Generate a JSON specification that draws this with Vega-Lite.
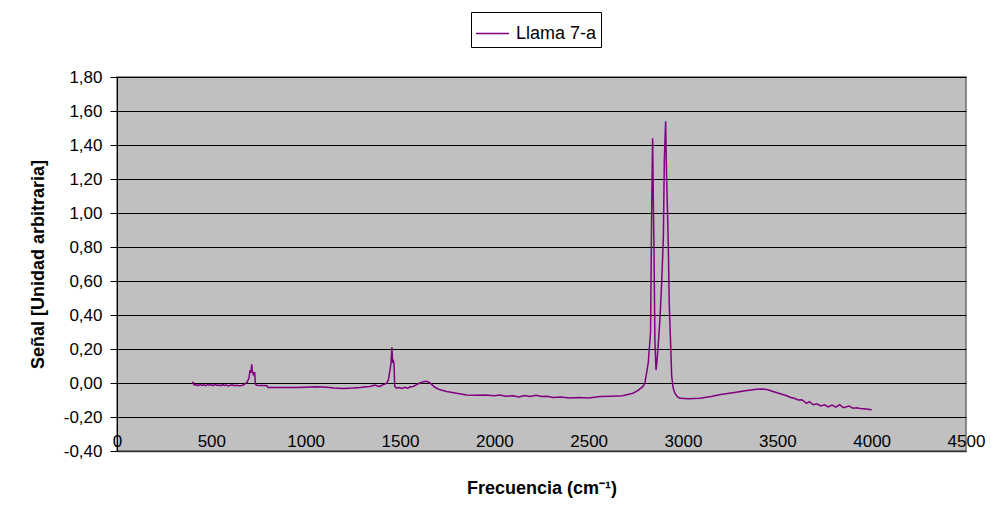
{
  "$schema": "https://vega.github.io/schema/vega-lite/v6.json",
  "autosize": "none",
  "width": 849,
  "height": 374,
  "padding": {"left": 117, "top": 77, "right": 26, "bottom": 63},
  "background": "white",
  "config": {
    "font": "Liberation Sans",
    "view": {"fill": "#C0C0C0", "stroke": "#6e6e6e", "strokeWidth": 1.5}
  },
  "data": {
    "values": [
      {"f": 400, "s": 0.008, "serie": "Llama 7-a"},
      {"f": 405, "s": -0.005, "serie": "Llama 7-a"},
      {"f": 410, "s": -0.012, "serie": "Llama 7-a"},
      {"f": 420, "s": -0.01, "serie": "Llama 7-a"},
      {"f": 430, "s": -0.015, "serie": "Llama 7-a"},
      {"f": 440, "s": -0.008, "serie": "Llama 7-a"},
      {"f": 450, "s": -0.014, "serie": "Llama 7-a"},
      {"f": 460, "s": -0.01, "serie": "Llama 7-a"},
      {"f": 470, "s": -0.016, "serie": "Llama 7-a"},
      {"f": 480, "s": -0.009, "serie": "Llama 7-a"},
      {"f": 490, "s": -0.013, "serie": "Llama 7-a"},
      {"f": 500, "s": -0.01, "serie": "Llama 7-a"},
      {"f": 510, "s": -0.016, "serie": "Llama 7-a"},
      {"f": 520, "s": -0.008, "serie": "Llama 7-a"},
      {"f": 530, "s": -0.014, "serie": "Llama 7-a"},
      {"f": 540, "s": -0.012, "serie": "Llama 7-a"},
      {"f": 550, "s": -0.016, "serie": "Llama 7-a"},
      {"f": 560, "s": -0.01, "serie": "Llama 7-a"},
      {"f": 570, "s": -0.015, "serie": "Llama 7-a"},
      {"f": 580, "s": -0.012, "serie": "Llama 7-a"},
      {"f": 590, "s": -0.017, "serie": "Llama 7-a"},
      {"f": 600, "s": -0.013, "serie": "Llama 7-a"},
      {"f": 610, "s": -0.011, "serie": "Llama 7-a"},
      {"f": 620, "s": -0.016, "serie": "Llama 7-a"},
      {"f": 630, "s": -0.014, "serie": "Llama 7-a"},
      {"f": 640, "s": -0.015, "serie": "Llama 7-a"},
      {"f": 650, "s": -0.016, "serie": "Llama 7-a"},
      {"f": 660, "s": -0.015, "serie": "Llama 7-a"},
      {"f": 670, "s": -0.012, "serie": "Llama 7-a"},
      {"f": 680, "s": -0.004, "serie": "Llama 7-a"},
      {"f": 690, "s": 0.005, "serie": "Llama 7-a"},
      {"f": 700, "s": 0.03, "serie": "Llama 7-a"},
      {"f": 705, "s": 0.076, "serie": "Llama 7-a"},
      {"f": 710, "s": 0.06, "serie": "Llama 7-a"},
      {"f": 714, "s": 0.11, "serie": "Llama 7-a"},
      {"f": 718, "s": 0.067, "serie": "Llama 7-a"},
      {"f": 722, "s": 0.05, "serie": "Llama 7-a"},
      {"f": 726, "s": 0.06, "serie": "Llama 7-a"},
      {"f": 730, "s": 0.06, "serie": "Llama 7-a"},
      {"f": 733, "s": -0.005, "serie": "Llama 7-a"},
      {"f": 740, "s": -0.013, "serie": "Llama 7-a"},
      {"f": 760, "s": -0.015, "serie": "Llama 7-a"},
      {"f": 780, "s": -0.015, "serie": "Llama 7-a"},
      {"f": 795, "s": -0.016, "serie": "Llama 7-a"},
      {"f": 800, "s": -0.026, "serie": "Llama 7-a"},
      {"f": 850, "s": -0.027, "serie": "Llama 7-a"},
      {"f": 900, "s": -0.027, "serie": "Llama 7-a"},
      {"f": 950, "s": -0.027, "serie": "Llama 7-a"},
      {"f": 1000, "s": -0.025, "serie": "Llama 7-a"},
      {"f": 1050, "s": -0.022, "serie": "Llama 7-a"},
      {"f": 1100, "s": -0.024, "serie": "Llama 7-a"},
      {"f": 1150, "s": -0.03, "serie": "Llama 7-a"},
      {"f": 1200, "s": -0.032, "serie": "Llama 7-a"},
      {"f": 1250, "s": -0.03, "serie": "Llama 7-a"},
      {"f": 1290, "s": -0.026, "serie": "Llama 7-a"},
      {"f": 1320, "s": -0.022, "serie": "Llama 7-a"},
      {"f": 1341, "s": -0.02, "serie": "Llama 7-a"},
      {"f": 1367, "s": -0.012, "serie": "Llama 7-a"},
      {"f": 1380, "s": -0.018, "serie": "Llama 7-a"},
      {"f": 1394, "s": -0.02, "serie": "Llama 7-a"},
      {"f": 1410, "s": -0.01, "serie": "Llama 7-a"},
      {"f": 1420, "s": -0.006, "serie": "Llama 7-a"},
      {"f": 1430, "s": 0.0, "serie": "Llama 7-a"},
      {"f": 1438, "s": 0.018, "serie": "Llama 7-a"},
      {"f": 1447, "s": 0.076, "serie": "Llama 7-a"},
      {"f": 1452, "s": 0.115, "serie": "Llama 7-a"},
      {"f": 1457, "s": 0.21, "serie": "Llama 7-a"},
      {"f": 1461, "s": 0.125, "serie": "Llama 7-a"},
      {"f": 1465, "s": 0.13, "serie": "Llama 7-a"},
      {"f": 1468, "s": 0.115, "serie": "Llama 7-a"},
      {"f": 1472, "s": -0.02, "serie": "Llama 7-a"},
      {"f": 1482, "s": -0.03, "serie": "Llama 7-a"},
      {"f": 1495, "s": -0.026, "serie": "Llama 7-a"},
      {"f": 1510, "s": -0.032, "serie": "Llama 7-a"},
      {"f": 1525, "s": -0.025, "serie": "Llama 7-a"},
      {"f": 1540, "s": -0.03, "serie": "Llama 7-a"},
      {"f": 1555, "s": -0.022, "serie": "Llama 7-a"},
      {"f": 1570, "s": -0.02, "serie": "Llama 7-a"},
      {"f": 1588, "s": -0.01, "serie": "Llama 7-a"},
      {"f": 1605, "s": 0.0, "serie": "Llama 7-a"},
      {"f": 1624, "s": 0.008, "serie": "Llama 7-a"},
      {"f": 1641, "s": 0.01, "serie": "Llama 7-a"},
      {"f": 1659, "s": 0.0, "serie": "Llama 7-a"},
      {"f": 1685, "s": -0.025, "serie": "Llama 7-a"},
      {"f": 1712, "s": -0.04, "serie": "Llama 7-a"},
      {"f": 1747, "s": -0.05, "serie": "Llama 7-a"},
      {"f": 1800, "s": -0.06, "serie": "Llama 7-a"},
      {"f": 1853, "s": -0.07, "serie": "Llama 7-a"},
      {"f": 1900, "s": -0.072, "serie": "Llama 7-a"},
      {"f": 1950, "s": -0.07, "serie": "Llama 7-a"},
      {"f": 2000, "s": -0.075, "serie": "Llama 7-a"},
      {"f": 2030, "s": -0.07, "serie": "Llama 7-a"},
      {"f": 2060, "s": -0.078, "serie": "Llama 7-a"},
      {"f": 2100, "s": -0.075, "serie": "Llama 7-a"},
      {"f": 2130, "s": -0.082, "serie": "Llama 7-a"},
      {"f": 2160, "s": -0.074, "serie": "Llama 7-a"},
      {"f": 2190, "s": -0.08, "serie": "Llama 7-a"},
      {"f": 2220, "s": -0.072, "serie": "Llama 7-a"},
      {"f": 2250, "s": -0.08, "serie": "Llama 7-a"},
      {"f": 2280, "s": -0.078, "serie": "Llama 7-a"},
      {"f": 2310, "s": -0.085, "serie": "Llama 7-a"},
      {"f": 2350, "s": -0.083, "serie": "Llama 7-a"},
      {"f": 2400, "s": -0.088, "serie": "Llama 7-a"},
      {"f": 2450, "s": -0.086, "serie": "Llama 7-a"},
      {"f": 2500, "s": -0.088, "serie": "Llama 7-a"},
      {"f": 2560, "s": -0.08, "serie": "Llama 7-a"},
      {"f": 2620, "s": -0.078, "serie": "Llama 7-a"},
      {"f": 2680, "s": -0.075, "serie": "Llama 7-a"},
      {"f": 2735, "s": -0.06, "serie": "Llama 7-a"},
      {"f": 2760, "s": -0.045, "serie": "Llama 7-a"},
      {"f": 2788, "s": -0.02, "serie": "Llama 7-a"},
      {"f": 2798, "s": 0.0, "serie": "Llama 7-a"},
      {"f": 2816, "s": 0.12, "serie": "Llama 7-a"},
      {"f": 2828, "s": 0.3, "serie": "Llama 7-a"},
      {"f": 2834, "s": 1.02, "serie": "Llama 7-a"},
      {"f": 2839, "s": 1.44, "serie": "Llama 7-a"},
      {"f": 2843, "s": 1.05, "serie": "Llama 7-a"},
      {"f": 2846, "s": 0.82, "serie": "Llama 7-a"},
      {"f": 2851, "s": 0.25, "serie": "Llama 7-a"},
      {"f": 2857, "s": 0.076, "serie": "Llama 7-a"},
      {"f": 2863, "s": 0.14, "serie": "Llama 7-a"},
      {"f": 2869, "s": 0.23, "serie": "Llama 7-a"},
      {"f": 2878, "s": 0.38, "serie": "Llama 7-a"},
      {"f": 2887, "s": 0.59, "serie": "Llama 7-a"},
      {"f": 2896, "s": 0.86, "serie": "Llama 7-a"},
      {"f": 2901, "s": 1.31, "serie": "Llama 7-a"},
      {"f": 2908, "s": 1.54, "serie": "Llama 7-a"},
      {"f": 2913, "s": 1.21, "serie": "Llama 7-a"},
      {"f": 2918, "s": 1.0, "serie": "Llama 7-a"},
      {"f": 2922, "s": 0.82, "serie": "Llama 7-a"},
      {"f": 2927, "s": 0.47, "serie": "Llama 7-a"},
      {"f": 2935, "s": 0.21, "serie": "Llama 7-a"},
      {"f": 2940, "s": 0.04, "serie": "Llama 7-a"},
      {"f": 2948, "s": -0.03, "serie": "Llama 7-a"},
      {"f": 2957, "s": -0.06, "serie": "Llama 7-a"},
      {"f": 2970, "s": -0.08, "serie": "Llama 7-a"},
      {"f": 2984, "s": -0.09, "serie": "Llama 7-a"},
      {"f": 3030, "s": -0.092, "serie": "Llama 7-a"},
      {"f": 3090, "s": -0.09, "serie": "Llama 7-a"},
      {"f": 3150, "s": -0.08, "serie": "Llama 7-a"},
      {"f": 3200, "s": -0.068, "serie": "Llama 7-a"},
      {"f": 3265, "s": -0.057, "serie": "Llama 7-a"},
      {"f": 3330, "s": -0.045, "serie": "Llama 7-a"},
      {"f": 3390, "s": -0.037, "serie": "Llama 7-a"},
      {"f": 3420, "s": -0.035, "serie": "Llama 7-a"},
      {"f": 3450, "s": -0.04, "serie": "Llama 7-a"},
      {"f": 3477, "s": -0.05, "serie": "Llama 7-a"},
      {"f": 3520, "s": -0.065, "serie": "Llama 7-a"},
      {"f": 3550, "s": -0.075, "serie": "Llama 7-a"},
      {"f": 3567, "s": -0.084, "serie": "Llama 7-a"},
      {"f": 3590, "s": -0.09, "serie": "Llama 7-a"},
      {"f": 3610, "s": -0.1, "serie": "Llama 7-a"},
      {"f": 3630, "s": -0.098, "serie": "Llama 7-a"},
      {"f": 3655, "s": -0.12, "serie": "Llama 7-a"},
      {"f": 3670, "s": -0.11, "serie": "Llama 7-a"},
      {"f": 3690, "s": -0.128, "serie": "Llama 7-a"},
      {"f": 3710, "s": -0.122, "serie": "Llama 7-a"},
      {"f": 3730, "s": -0.135, "serie": "Llama 7-a"},
      {"f": 3750, "s": -0.128, "serie": "Llama 7-a"},
      {"f": 3770, "s": -0.14, "serie": "Llama 7-a"},
      {"f": 3790, "s": -0.13, "serie": "Llama 7-a"},
      {"f": 3810, "s": -0.142, "serie": "Llama 7-a"},
      {"f": 3830, "s": -0.128, "serie": "Llama 7-a"},
      {"f": 3850, "s": -0.145, "serie": "Llama 7-a"},
      {"f": 3867, "s": -0.14, "serie": "Llama 7-a"},
      {"f": 3880, "s": -0.135, "serie": "Llama 7-a"},
      {"f": 3900, "s": -0.148, "serie": "Llama 7-a"},
      {"f": 3920, "s": -0.145, "serie": "Llama 7-a"},
      {"f": 3940, "s": -0.15, "serie": "Llama 7-a"},
      {"f": 3960, "s": -0.152, "serie": "Llama 7-a"},
      {"f": 3980, "s": -0.155, "serie": "Llama 7-a"},
      {"f": 4000, "s": -0.158, "serie": "Llama 7-a"}
    ]
  },
  "mark": {"type": "line", "strokeWidth": 1.5, "interpolate": "linear"},
  "encoding": {
    "x": {
      "field": "f",
      "type": "quantitative",
      "scale": {"domain": [0, 4500], "nice": false, "zero": false},
      "axis": {
        "values": [0, 500, 1000, 1500, 2000, 2500, 3000, 3500, 4000, 4500],
        "format": "d",
        "title": "Frecuencia (cm⁻¹)",
        "titleFontSize": 18,
        "titleFontWeight": "bold",
        "titleColor": "black",
        "titleY": 42,
        "titleBaseline": "alphabetic",
        "labelFontSize": 17,
        "labelColor": "black",
        "labelPadding": -18,
        "labelBaseline": "top",
        "labelFlush": false,
        "labelOverlap": false,
        "labelBound": false,
        "ticks": false,
        "domain": true,
        "domainColor": "#333333",
        "domainWidth": 1.5,
        "grid": false
      }
    },
    "y": {
      "field": "s",
      "type": "quantitative",
      "scale": {"domain": [-0.4, 1.8], "nice": false, "zero": false},
      "axis": {
        "values": [-0.4, -0.2, 0, 0.2, 0.4, 0.6, 0.8, 1.0, 1.2, 1.4, 1.6, 1.8],
        "labelExpr": "replace(replace(format(datum.value, '.2f'), '.', ','), '−', '-')",
        "title": "Señal [Unidad arbitraria]",
        "titleFontSize": 18,
        "titleFontWeight": "bold",
        "titleColor": "black",
        "titleX": -70,
        "titleY": 187,
        "titleAngle": 270,
        "titleAlign": "center",
        "titleBaseline": "bottom",
        "labelFontSize": 17,
        "labelColor": "black",
        "labelPadding": 8,
        "labelOverlap": false,
        "labelBound": false,
        "tickSize": 7,
        "tickColor": "black",
        "domain": true,
        "domainColor": "black",
        "grid": true,
        "gridColor": "black",
        "gridWidth": 1,
        "gridOpacity": 1
      }
    },
    "color": {
      "field": "serie",
      "type": "nominal",
      "scale": {"range": ["#800080"]},
      "legend": {
        "title": null,
        "orient": "none",
        "legendX": 354,
        "legendY": -65,
        "direction": "horizontal",
        "fillColor": "white",
        "strokeColor": "black",
        "padding": 4,
        "symbolType": "stroke",
        "symbolSize": 1100,
        "symbolStrokeWidth": 1.5,
        "labelFontSize": 18,
        "labelColor": "black",
        "labelOffset": 6
      }
    }
  }
}
